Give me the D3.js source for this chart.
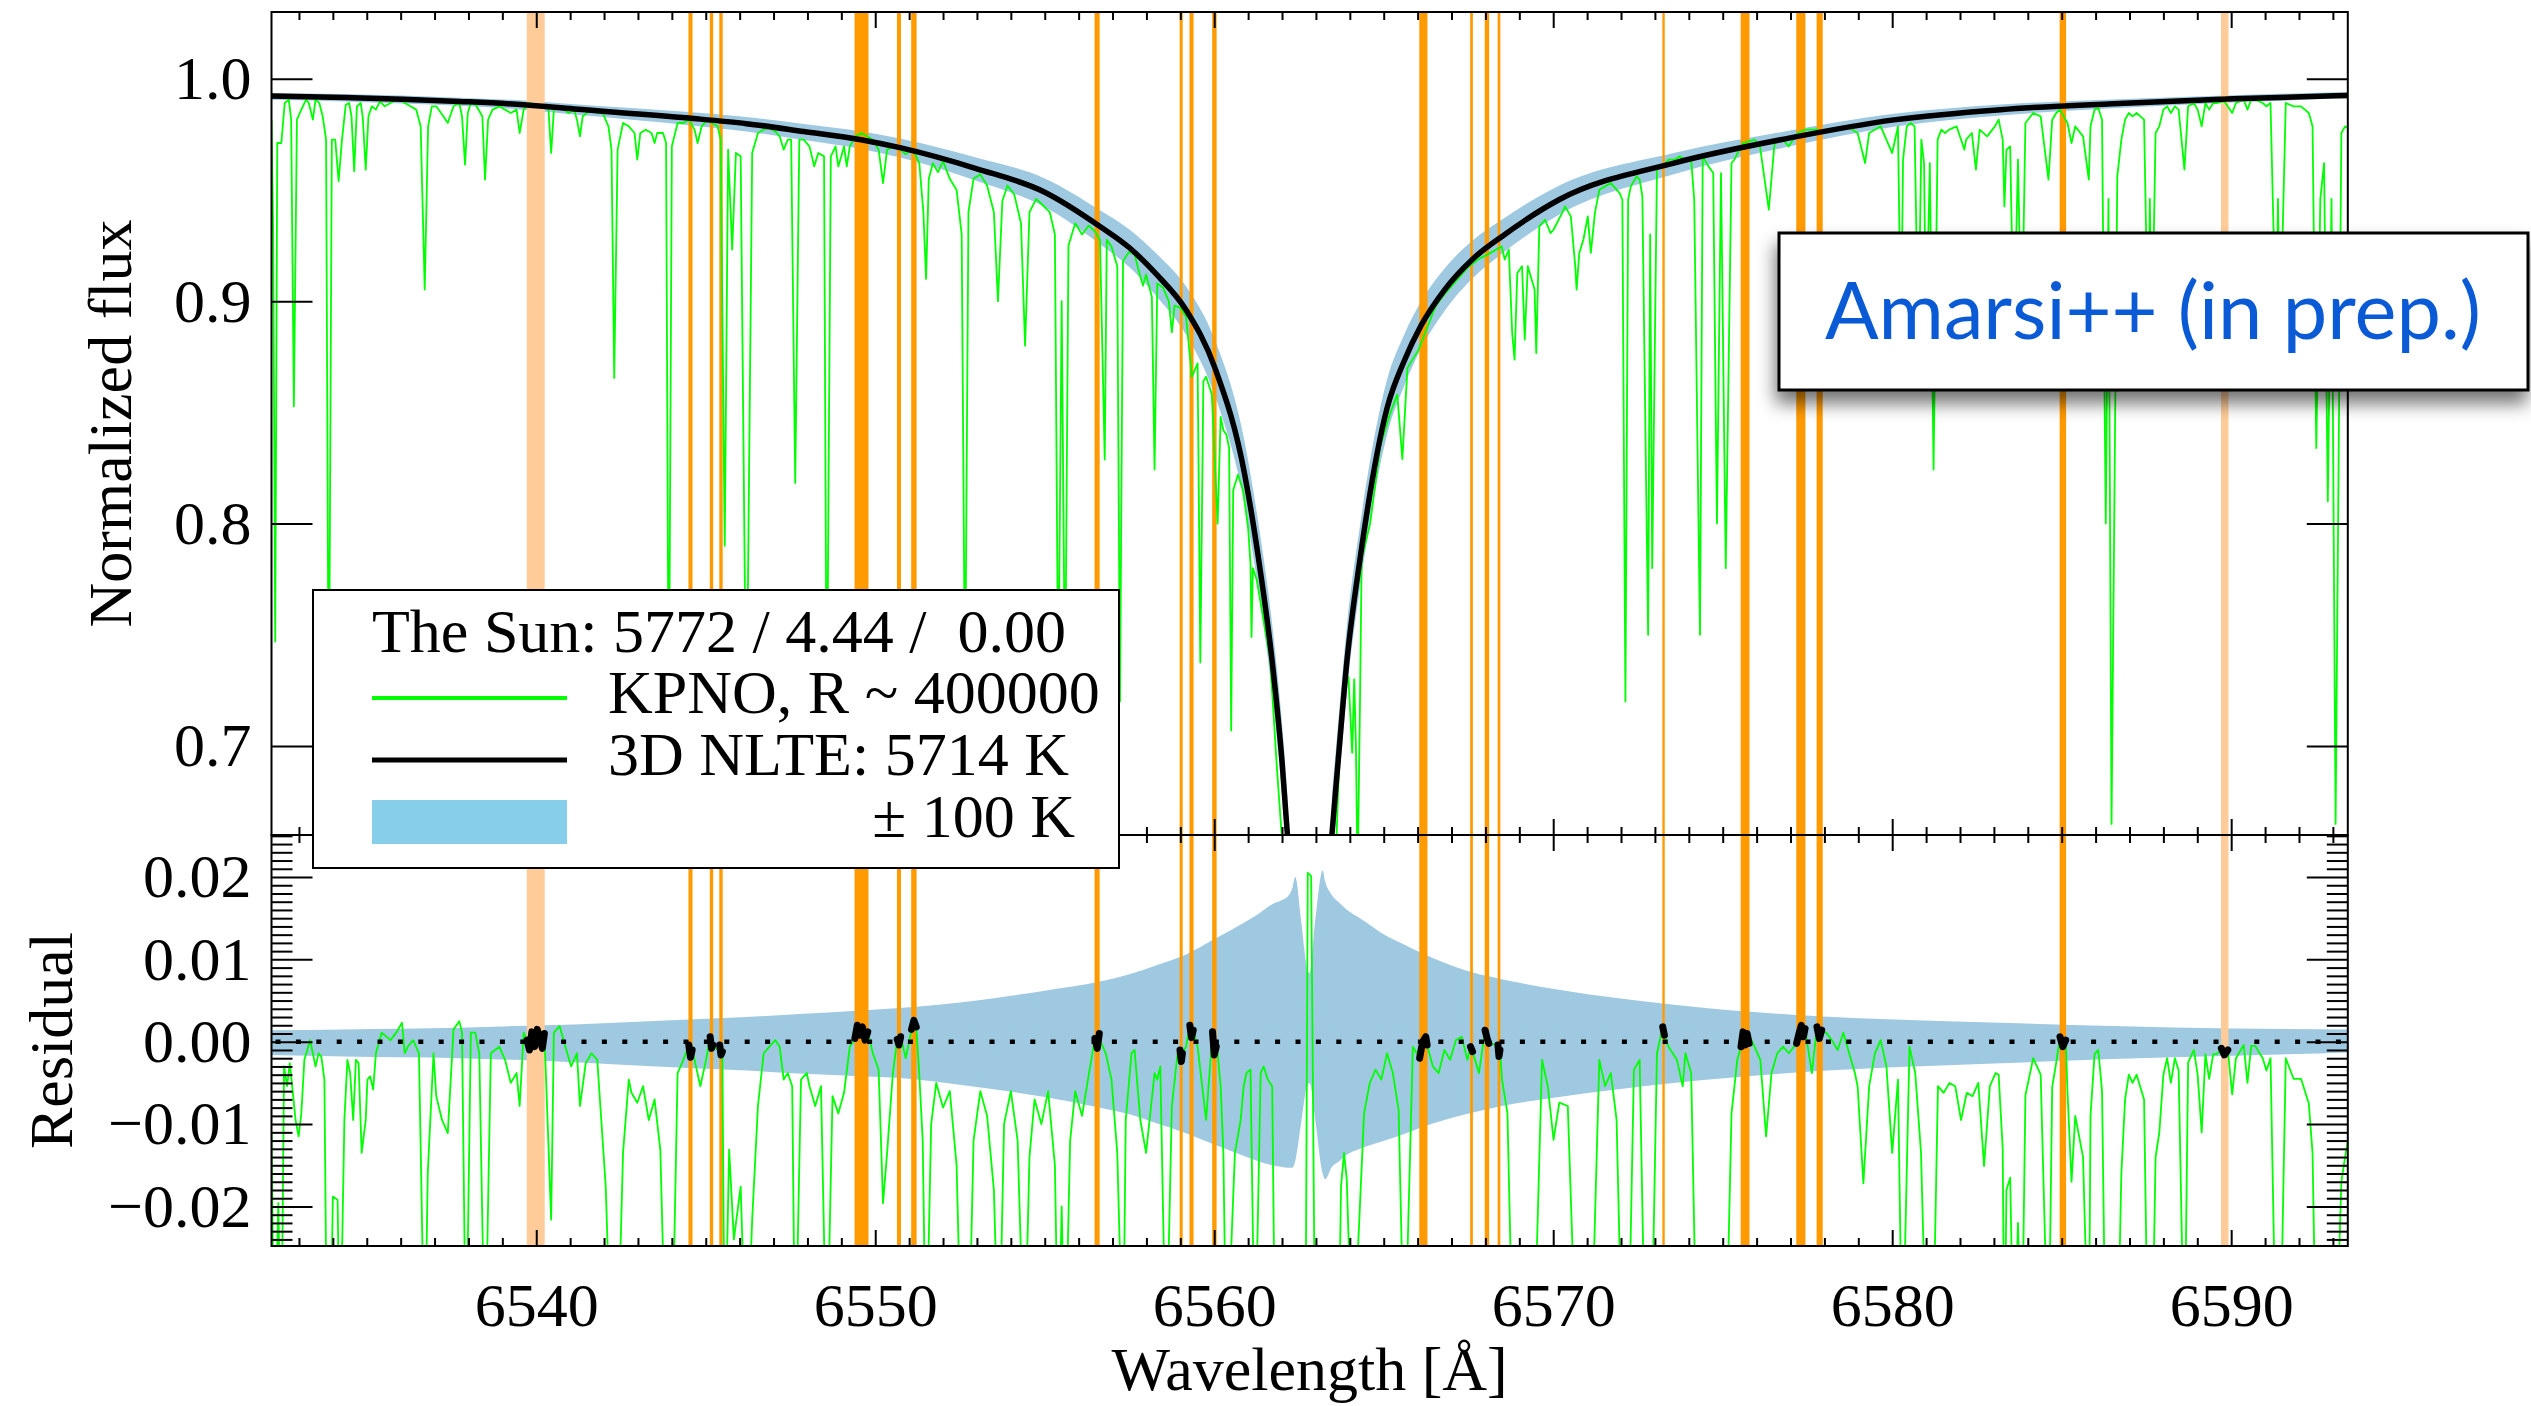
<!DOCTYPE html>
<html>
<head>
<meta charset="utf-8">
<script src="https://cdn.jsdelivr.net/npm/d3@7"></script>
<style>
  html, body { margin: 0; padding: 0; background: #ffffff; }
  svg text { font-family: "Liberation Serif", "Times New Roman", serif; fill: #000; }
</style>
</head>
<body>
<svg id="chart" width="2531" height="1406"></svg>
<script>
// ---------------------------------------------------------------------------
// Data: solar H-alpha region, KPNO flux atlas vs. 3D NLTE synthetic profile
// ---------------------------------------------------------------------------

// Axis domains and tick labels
const waveDomain  = [6532.19, 6593.44];
const fluxDomain  = [0.66, 1.03];
const residDomain = [-0.0248, 0.0251];
const waveTicks   = [6540, 6550, 6560, 6570, 6580, 6590];
const fluxTicks   = [0.7, 0.8, 0.9, 1.0];
const residTicks  = [-0.02, -0.01, 0.00, 0.01, 0.02];

// Synthetic 3D NLTE profile (null where the core falls below the plotted range)
const modelWave = [6532.19, 6534.34, 6537.73, 6539.42, 6541.12, 6544.50, 6546.20, 6547.89, 6549.58, 6550.73,
                   6553.00, 6555.00, 6556.63, 6557.50, 6558.30, 6559.17, 6560.02, 6560.90, 6561.30, 6561.71,
                   6562.00, 6562.16, 6562.30, 6562.39, 6562.56, 6562.73, 6562.81, 6562.98, 6563.20, 6563.27,
                   6563.47, 6563.66, 6563.92, 6564.30, 6565.10, 6565.60, 6566.10, 6566.79, 6567.63, 6568.48,
                   6570.17, 6573.56, 6576.95, 6580.05, 6583.20, 6586.50, 6590.06, 6593.44];
const modelFlux = [0.9922, 0.9916, 0.9898, 0.9885, 0.9864, 0.9823, 0.9798, 0.9763, 0.9726, 0.9690,
                   0.9595, 0.9490, 0.9336, 0.9240, 0.9120, 0.8960, 0.8700, 0.8220, 0.7850, 0.7380,
                   0.6930, 0.6600, null, null, null, null, null, null, null, null,
                   0.6600, 0.6940, 0.7390, 0.7840, 0.8520, 0.8730, 0.8890, 0.9050, 0.9190, 0.9290,
                   0.9456, 0.9621, 0.9733, 0.9815, 0.9861, 0.9888, 0.9910, 0.9925];
// Flux change of the profile for Teff +/- 100 K
const bandUpper = [0.0014, 0.0015, 0.0017, 0.0019, 0.0021, 0.0027, 0.0030, 0.0034, 0.0038, 0.0041,
                   0.0050, 0.0062, 0.0073, 0.0082, 0.0093, 0.0106, 0.0125, 0.0145, 0.0155, 0.0167,
                   0.0172, 0.0176, 0.0186, 0.0200, 0.0148, 0.0091, 0.0083, 0.0148, 0.0208, 0.0195,
                   0.0178, 0.0170, 0.0160, 0.0150, 0.0128, 0.0118, 0.0108, 0.0096, 0.0084, 0.0076,
                   0.0063, 0.0045, 0.0033, 0.0027, 0.0023, 0.0019, 0.0016, 0.0015];
const bandLower = [-0.0016, -0.0018, -0.0020, -0.0022, -0.0025, -0.0032, -0.0035, -0.0039, -0.0042, -0.0044,
                   -0.0055, -0.0067, -0.0080, -0.0088, -0.0099, -0.0111, -0.0125, -0.0139, -0.0145, -0.0150,
                   -0.0152, -0.0153, -0.0153, -0.0145, -0.0100, -0.0055, -0.0050, -0.0095, -0.0160, -0.0167,
                   -0.0152, -0.0146, -0.0137, -0.0130, -0.0119, -0.0112, -0.0104, -0.0095, -0.0086, -0.0078,
                   -0.0067, -0.0050, -0.0038, -0.0031, -0.0026, -0.0021, -0.0017, -0.0013];

// KPNO solar flux atlas: [wavelength, normalized flux]
const kpnoFlux = [
  [6532.19,0.9816],[6532.24,0.930],[6532.30,0.747],[6532.36,0.9711],[6532.48,0.9711],[6532.58,0.9891],[6532.70,0.9906],
  [6532.77,0.9816],[6532.85,0.8527],[6532.94,0.9816],[6533.07,0.9861],[6533.21,0.9906],[6533.29,0.9891],[6533.41,0.9816],
  [6533.49,0.9906],[6533.60,0.9891],[6533.70,0.9831],[6533.80,0.9726],[6533.88,0.700],[6533.97,0.9726],[6534.07,0.9726],
  [6534.17,0.9539],[6534.27,0.9726],[6534.38,0.9883],[6534.48,0.9891],[6534.55,0.9831],[6534.63,0.9584],[6534.71,0.9876],
  [6534.82,0.9891],[6534.88,0.9831],[6534.97,0.9591],[6535.05,0.9831],[6535.15,0.9876],[6535.27,0.9861],[6535.39,0.9898],
  [6535.53,0.9876],[6535.70,0.9891],[6535.87,0.9906],[6536.04,0.9898],[6536.29,0.9876],[6536.46,0.9861],[6536.59,0.9786],
  [6536.71,0.9052],[6536.81,0.9786],[6536.92,0.9876],[6537.05,0.9876],[6537.26,0.9831],[6537.39,0.9801],[6537.56,0.9876],
  [6537.73,0.9891],[6537.81,0.9831],[6537.90,0.9614],[6537.98,0.9846],[6538.10,0.9906],[6538.24,0.9876],[6538.41,0.9831],
  [6538.49,0.9546],[6538.58,0.9816],[6538.71,0.9861],[6538.92,0.9876],[6539.08,0.9861],[6539.25,0.9846],[6539.42,0.9861],
  [6539.51,0.9756],[6539.63,0.9861],[6539.80,0.9891],[6540.02,0.9883],[6540.19,0.9876],[6540.36,0.9861],[6540.44,0.9666],
  [6540.52,0.9861],[6540.69,0.9876],[6540.95,0.9846],[6541.12,0.9861],[6541.20,0.9816],[6541.29,0.9741],[6541.37,0.9831],
  [6541.63,0.9861],[6541.80,0.9846],[6541.96,0.9846],[6542.13,0.9786],[6542.22,0.9681],[6542.30,0.8655],[6542.40,0.9681],
  [6542.56,0.9801],[6542.73,0.9786],[6542.90,0.9756],[6542.98,0.9636],[6543.07,0.9756],[6543.23,0.9771],[6543.40,0.9756],
  [6543.49,0.9711],[6543.57,0.9756],[6543.74,0.9756],[6543.83,0.9711],[6543.91,0.700],[6544.00,0.9696],[6544.17,0.9801],
  [6544.34,0.9801],[6544.51,0.9816],[6544.67,0.9771],[6544.76,0.9711],[6544.88,0.9786],[6545.05,0.9816],[6545.18,0.9801],
  [6545.35,0.9786],[6545.44,0.9726],[6545.56,0.790],[6545.66,0.9681],[6545.78,0.9232],[6545.89,0.9666],[6546.03,0.9651],
  [6546.20,0.700],[6546.37,0.9666],[6546.54,0.9756],[6546.71,0.9771],[6546.88,0.9778],[6547.05,0.9763],[6547.18,0.9741],
  [6547.30,0.9681],[6547.42,0.9726],[6547.52,0.9726],[6547.64,0.8183],[6547.76,0.9726],[6547.89,0.9726],[6548.06,0.9696],
  [6548.20,0.9606],[6548.32,0.9666],[6548.49,0.9651],[6548.57,0.700],[6548.69,0.9651],[6548.83,0.9696],[6548.91,0.9606],
  [6549.00,0.9651],[6549.08,0.9696],[6549.16,0.9606],[6549.25,0.9696],[6549.42,0.9741],[6549.59,0.9756],[6549.76,0.9741],
  [6549.93,0.9726],[6550.10,0.9681],[6550.23,0.9531],[6550.35,0.9681],[6550.52,0.9696],[6550.74,0.9681],
  [6550.90,0.966],[6551.05,0.968],[6551.15,0.967],[6551.30,0.962],[6551.42,0.940],[6551.50,0.910],[6551.58,0.955],
  [6551.70,0.962],[6551.85,0.958],[6552.00,0.963],[6552.20,0.955],[6552.40,0.950],[6552.55,0.930],[6552.65,0.720],
  [6552.75,0.940],[6552.90,0.955],[6553.10,0.957],[6553.30,0.952],[6553.50,0.940],[6553.62,0.900],[6553.75,0.945],
  [6553.90,0.952],[6554.10,0.948],[6554.30,0.935],[6554.42,0.880],[6554.55,0.940],[6554.75,0.946],[6554.95,0.943],
  [6555.15,0.940],[6555.30,0.930],[6555.40,0.720],[6555.50,0.900],[6555.60,0.720],[6555.70,0.925],[6555.90,0.935],
  [6556.10,0.930],[6556.30,0.934],[6556.50,0.931],
  [6556.63,0.9276],[6556.77,0.8288],[6556.83,0.9276],[6556.97,0.9246],[6557.14,0.9157],[6557.22,0.720],[6557.31,0.918],
  [6557.48,0.922],[6557.65,0.921],[6557.82,0.911],[6557.90,0.907],[6557.99,0.912],[6558.16,0.902],[6558.24,0.8243],
  [6558.32,0.908],[6558.49,0.906],[6558.66,0.900],[6558.75,0.886],[6558.83,0.898],[6559.00,0.897],[6559.17,0.893],
  [6559.34,0.866],[6559.51,0.872],[6559.59,0.7375],[6559.68,0.864],[6559.76,0.866],[6559.93,0.858],[6560.10,0.800],
  [6560.19,0.848],[6560.27,0.842],[6560.36,0.840],[6560.44,0.834],[6560.50,0.707],[6560.56,0.815],[6560.70,0.822],
  [6560.85,0.815],[6561.00,0.798],[6561.07,0.782],[6561.10,0.749],[6561.14,0.780],[6561.25,0.775],[6561.45,0.757],
  [6561.65,0.739],[6561.85,0.690],[6561.99,0.660],[6562.05,0.640],[6563.55,0.640],[6563.61,0.660],[6563.70,0.700],
  [6563.80,0.720],[6563.90,0.728],[6563.96,0.731],[6564.07,0.697],[6564.13,0.730],[6564.18,0.700],[6564.23,0.640],
  [6564.30,0.720],[6564.35,0.784],[6564.60,0.800],[6564.90,0.835],[6565.20,0.850],[6565.40,0.858],[6565.55,0.829],
  [6565.70,0.870],[6566.03,0.8782],[6566.45,0.8947],[6566.54,0.898],[6566.79,0.903],[6567.13,0.909],[6567.47,0.915],
  [6567.81,0.919],[6568.15,0.9217],[6568.48,0.9246],[6568.57,0.9187],[6568.69,0.9232],[6568.79,0.8857],[6568.86,0.8737],
  [6568.94,0.9127],[6569.08,0.9157],[6569.16,0.8827],[6569.25,0.9157],[6569.45,0.9052],[6569.50,0.8767],[6569.59,0.9336],
  [6569.76,0.9366],[6569.92,0.9306],[6570.01,0.9321],[6570.26,0.9396],[6570.35,0.9426],[6570.52,0.9381],[6570.65,0.9157],
  [6570.69,0.9052],[6570.77,0.9217],[6570.89,0.9276],[6571.02,0.9381],[6571.11,0.9217],[6571.23,0.9396],[6571.36,0.9501],
  [6571.53,0.9516],[6571.70,0.9531],[6571.96,0.9486],[6572.04,0.9456],[6572.13,0.720],[6572.21,0.9456],[6572.29,0.9516],
  [6572.46,0.9561],[6572.55,0.9546],[6572.63,0.9471],[6572.80,0.750],[6572.86,0.930],[6572.92,0.780],[6573.06,0.9591],
  [6573.23,0.9606],[6573.40,0.9636],[6573.57,0.9636],[6573.73,0.9651],[6573.90,0.9636],[6574.07,0.9636],[6574.16,0.9456],
  [6574.33,0.750],[6574.41,0.9651],[6574.58,0.9606],[6574.72,0.9576],[6574.83,0.800],[6574.95,0.9576],[6575.09,0.780],
  [6575.26,0.9621],[6575.34,0.9636],[6575.60,0.9711],[6575.94,0.9726],[6576.10,0.9696],[6576.36,0.9411],[6576.53,0.9711],
  [6576.78,0.9726],[6576.95,0.9696],[6577.21,0.9756],[6577.46,0.9771],[6577.80,0.9771],[6577.97,0.9756],[6578.14,0.9771],
  [6578.65,0.9786],[6578.98,0.9756],[6579.20,0.9621],[6579.32,0.9756],[6579.66,0.9786],[6580.00,0.9666],[6580.17,0.9786],
  [6580.26,0.880],[6580.32,0.9636],[6580.43,0.9786],[6580.55,0.9801],[6580.66,0.9786],[6580.77,0.880],[6580.86,0.9726],
  [6580.94,0.9621],[6581.00,0.880],[6581.11,0.9621],[6581.22,0.8243],[6581.34,0.9726],[6581.45,0.9771],[6581.56,0.9756],
  [6581.68,0.9771],[6581.90,0.9786],[6582.13,0.9681],[6582.18,0.9726],[6582.35,0.9756],[6582.47,0.9591],[6582.58,0.9771],
  [6582.80,0.9741],[6583.03,0.9786],[6583.14,0.9816],[6583.26,0.9726],[6583.31,0.9426],[6583.37,0.9681],[6583.48,0.9696],
  [6583.59,0.880],[6583.71,0.9636],[6583.82,0.880],[6583.93,0.9801],[6584.16,0.9846],[6584.38,0.9831],[6584.61,0.9546],
  [6584.72,0.9816],[6584.84,0.9846],[6584.95,0.9861],[6585.06,0.9831],[6585.17,0.9801],[6585.29,0.9711],[6585.40,0.9786],
  [6585.63,0.9741],[6585.80,0.9546],[6585.85,0.9786],[6585.97,0.9861],[6586.08,0.9868],[6586.19,0.9816],[6586.30,0.800],
  [6586.38,0.946],[6586.47,0.665],[6586.64,0.9561],[6586.76,0.9726],[6586.87,0.9816],[6586.98,0.9846],[6587.09,0.9831],
  [6587.21,0.9846],[6587.43,0.9816],[6587.55,0.880],[6587.60,0.946],[6587.66,0.880],[6587.77,0.9756],[6587.88,0.9786],
  [6588.00,0.9861],[6588.11,0.9876],[6588.22,0.9846],[6588.34,0.9876],[6588.45,0.9861],[6588.62,0.9591],[6588.73,0.9876],
  [6588.90,0.9891],[6589.01,0.9861],[6589.13,0.9786],[6589.24,0.9891],[6589.35,0.9861],[6589.47,0.9891],[6589.58,0.9891],
  [6589.80,0.9898],[6590.03,0.9846],[6590.14,0.9891],[6590.37,0.9906],[6590.48,0.9861],[6590.59,0.9906],[6590.71,0.9906],
  [6590.93,0.9891],[6591.04,0.9876],[6591.16,0.9891],[6591.33,0.880],[6591.38,0.946],[6591.44,0.880],[6591.61,0.9891],
  [6591.84,0.9876],[6592.06,0.9876],[6592.29,0.9846],[6592.40,0.9786],[6592.51,0.834],[6592.63,0.946],[6592.74,0.9621],
  [6592.85,0.810],[6592.96,0.946],[6593.08,0.665],[6593.25,0.9756],[6593.36,0.9786],[6593.44,0.978]
];

// Residual (observed - synthetic); values below the plotted range are given as -0.04
const kpnoResidual = [
  [6532.19,-0.0111],[6532.27,-0.04],[6532.39,-0.0196],[6532.48,-0.04],[6532.56,-0.0030],[6532.65,-0.0054],[6532.73,-0.0026],
  [6532.82,-0.0062],[6532.90,-0.0095],[6532.99,-0.0115],[6533.07,-0.0087],[6533.16,-0.0022],[6533.33,0.0002],[6533.41,-0.0014],
  [6533.49,-0.0030],[6533.58,-0.0014],[6533.66,-0.0018],[6533.75,-0.0046],[6533.83,-0.04],[6533.92,-0.04],[6534.00,-0.0188],
  [6534.14,-0.0192],[6534.21,-0.04],[6534.34,-0.0095],[6534.43,-0.0022],[6534.51,-0.0038],[6534.60,-0.0095],[6534.68,-0.0022],
  [6534.76,-0.0026],[6534.85,-0.0135],[6534.97,-0.0095],[6535.02,-0.0046],[6535.10,-0.0042],[6535.19,-0.0058],[6535.27,-0.0014],
  [6535.44,0.0011],[6535.70,0.0002],[6535.87,0.0011],[6536.04,0.0023],[6536.12,-0.0014],[6536.21,-0.0006],[6536.37,0.0002],
  [6536.54,-0.0014],[6536.71,-0.04],[6536.80,-0.0159],[6536.97,-0.0014],[6537.05,-0.0066],[6537.22,-0.0095],[6537.39,-0.0111],
  [6537.56,0.0015],[6537.73,0.0025],[6537.81,0.0011],[6537.93,-0.04],[6538.07,0.0011],[6538.20,0.0011],[6538.32,-0.0014],
  [6538.49,-0.04],[6538.66,-0.0014],[6538.91,-0.0006],[6539.08,-0.0022],[6539.25,-0.0050],[6539.42,-0.0038],[6539.51,-0.0078],
  [6539.63,0.0011],[6540.44,-0.0216],[6540.52,0.0011],[6540.69,0.0019],[6540.86,-0.0006],[6541.03,-0.0030],[6541.20,-0.0014],
  [6541.29,-0.0078],[6541.46,-0.0026],[6541.63,-0.0014],[6541.80,-0.0022],[6542.05,-0.0176],[6542.22,-0.04],[6542.39,-0.04],
  [6542.56,-0.0135],[6542.73,-0.0046],[6542.81,-0.0062],[6542.98,-0.0074],[6543.15,-0.0054],[6543.32,-0.0095],[6543.49,-0.0070],
  [6543.66,-0.0131],[6543.83,-0.04],[6544.00,-0.04],[6544.17,-0.0038],[6544.34,-0.0022],[6544.67,-0.0022],[6544.84,-0.0054],
  [6545.01,-0.0022],[6545.35,-0.0010],[6545.56,-0.04],[6545.69,-0.0131],[6545.83,-0.0240],[6546.03,-0.0176],[6546.20,-0.04],
  [6546.37,-0.0216],[6546.54,-0.0078],[6546.71,-0.0014],[6546.88,-0.0006],[6547.05,0.0002],[6547.18,-0.0006],[6547.30,-0.0046],
  [6547.42,-0.0038],[6547.55,-0.0054],[6547.64,-0.04],[6547.81,-0.0046],[6547.98,-0.0038],[6548.06,-0.0054],[6548.23,-0.0078],
  [6548.40,-0.0054],[6548.57,-0.04],[6548.74,-0.0066],[6548.91,-0.0087],[6549.08,-0.0062],[6549.25,-0.0006],[6549.93,-0.0014],
  [6550.10,-0.0034],[6550.23,-0.0196],[6550.35,-0.0135],[6550.52,-0.0038],[6550.90,-0.0020],[6551.30,-0.0040],[6551.40,-0.0120],
  [6551.50,-0.04],[6551.65,-0.0100],[6551.80,-0.0050],[6552.00,-0.0080],[6552.20,-0.0060],[6552.40,-0.0150],[6552.55,-0.04],
  [6552.75,-0.04],[6552.90,-0.0120],[6553.10,-0.0060],[6553.30,-0.0090],[6553.50,-0.0180],[6553.65,-0.04],[6553.80,-0.0100],
  [6554.00,-0.0060],[6554.20,-0.0120],[6554.40,-0.04],[6554.55,-0.0140],[6554.70,-0.0070],[6554.90,-0.0100],[6555.10,-0.0060],
  [6555.30,-0.0150],[6555.40,-0.04],[6555.50,-0.0200],[6555.60,-0.04],[6555.75,-0.0120],[6555.90,-0.0060],[6556.10,-0.0090],
  [6556.30,-0.0040],[6556.63,0.0002],[6556.80,-0.0014],[6556.97,-0.0046],[6557.14,-0.0135],[6557.31,-0.04],[6557.39,-0.0095],
  [6557.56,-0.0014],[6557.65,-0.0010],[6557.82,-0.0095],[6557.99,-0.0135],[6558.24,-0.0038],[6558.32,-0.0046],[6558.41,-0.0030],
  [6558.58,-0.04],[6558.75,-0.0078],[6558.92,-0.0014],[6559.17,-0.0006],[6559.51,-0.0006],[6559.76,-0.0095],[6560.10,-0.0014],
  [6560.19,-0.0054],[6560.27,-0.0135],[6560.36,-0.04],[6560.61,-0.0135],[6560.78,-0.0095],[6560.87,-0.0054],[6560.95,-0.0038],
  [6561.07,-0.0034],[6561.20,-0.04],[6561.37,-0.0038],[6561.46,-0.0030],[6561.58,-0.0046],[6561.71,-0.0054],[6561.80,-0.04],
  [6562.69,-0.04],[6562.76,0.0205],[6562.86,0.0201],[6562.98,-0.04],[6563.66,-0.04],[6563.74,-0.0176],[6563.83,-0.0135],
  [6563.91,-0.0167],[6564.08,-0.04],[6564.42,-0.0087],[6564.59,-0.0050],[6564.76,-0.0034],[6564.93,-0.0046],[6565.10,-0.0014],
  [6565.27,-0.0038],[6565.44,-0.0083],[6565.61,-0.04],[6565.86,-0.0006],[6566.45,-0.0030],[6566.62,-0.0038],[6566.79,-0.0010],
  [6566.96,-0.0022],[6567.13,0.0002],[6567.30,0.0006],[6567.47,-0.0022],[6567.81,-0.0038],[6568.49,-0.0046],[6568.65,-0.0087],
  [6568.82,-0.04],[6569.42,-0.04],[6569.67,-0.0022],[6569.84,-0.0054],[6570.01,-0.0119],[6570.18,-0.0074],[6570.43,-0.0078],
  [6570.69,-0.04],[6571.11,-0.04],[6571.36,-0.0022],[6571.53,-0.0054],[6571.70,-0.0038],[6571.87,-0.0095],[6572.04,-0.04],
  [6572.21,-0.04],[6572.38,-0.0034],[6572.55,-0.0022],[6572.72,-0.04],[6572.89,-0.04],[6573.06,-0.0014],[6573.40,-0.0006],
  [6573.65,-0.0022],[6573.82,-0.0054],[6573.90,-0.0014],[6574.07,-0.0038],[6574.24,-0.04],[6575.09,-0.04],[6575.26,-0.0087],
  [6575.43,-0.0022],[6575.85,0.0002],[6576.11,-0.0022],[6576.28,-0.0115],[6576.44,-0.0038],[6576.61,-0.0014],[6576.78,-0.0006],
  [6576.95,-0.0014],[6577.54,-0.0014],[6577.63,-0.0038],[6578.05,0.0011],[6578.22,0.0002],[6578.39,-0.0010],[6578.56,0.0011],
  [6578.73,-0.0014],[6578.90,-0.0038],[6578.98,-0.0054],[6579.15,-0.0172],[6579.32,-0.0054],[6579.49,-0.0014],[6579.66,0.0002],
  [6579.83,-0.0030],[6580.00,-0.0135],[6580.17,-0.0046],[6580.30,-0.04],[6580.51,-0.0006],[6580.68,-0.0038],[6580.85,-0.0135],
  [6581.02,-0.04],[6581.19,-0.04],[6581.35,-0.0054],[6581.52,-0.0062],[6581.69,-0.0050],[6581.86,-0.0054],[6582.03,-0.0095],
  [6582.20,-0.0062],[6582.37,-0.0066],[6582.54,-0.0050],[6582.71,-0.0151],[6582.88,-0.0054],[6583.05,-0.0038],[6583.14,-0.0040],
  [6583.26,-0.0130],[6583.31,-0.04],[6583.37,-0.0180],[6583.48,-0.0165],[6583.59,-0.04],[6583.71,-0.0220],[6583.82,-0.04],
  [6583.93,-0.0065],[6584.16,-0.0020],[6584.38,-0.0040],[6584.61,-0.04],[6584.72,-0.0055],[6584.84,-0.0025],[6585.17,-0.0060],
  [6585.29,-0.0170],[6585.40,-0.0090],[6585.63,-0.0140],[6585.80,-0.04],[6585.85,-0.0090],[6585.97,-0.0015],[6586.08,-0.0010],
  [6586.19,-0.0060],[6586.30,-0.04],[6586.47,-0.04],[6586.64,-0.04],[6586.76,-0.0160],[6586.87,-0.0070],[6586.98,-0.0040],
  [6587.09,-0.0050],[6587.21,-0.0040],[6587.43,-0.0070],[6587.55,-0.04],[6587.66,-0.04],[6587.77,-0.0140],[6587.88,-0.0110],
  [6588.00,-0.0040],[6588.11,-0.0020],[6588.22,-0.0050],[6588.34,-0.0020],[6588.45,-0.0035],[6588.62,-0.04],[6588.73,-0.0025],
  [6588.90,-0.0010],[6589.01,-0.0040],[6589.13,-0.0110],[6589.24,-0.0015],[6589.35,-0.0045],[6589.47,-0.0015],[6589.58,-0.0015],
  [6590.03,-0.0064],[6590.14,-0.0020],[6590.37,-0.0004],[6590.48,-0.0050],[6590.59,-0.0005],[6590.71,-0.0005],[6590.93,-0.0020],
  [6591.04,-0.0035],[6591.16,-0.0020],[6591.33,-0.04],[6591.44,-0.04],[6591.61,-0.0020],[6591.84,-0.0045],[6592.06,-0.0045],
  [6592.29,-0.0075],[6592.40,-0.0135],[6592.51,-0.04],[6592.74,-0.04],[6592.85,-0.04],[6593.08,-0.04],[6593.25,-0.0170],
  [6593.36,-0.0140],[6593.44,-0.0120]
];

// Wavelength windows used in the fit: [start, end, weight class]
const fitWindows = [
  [6539.72, 6540.25, "partial"], [6544.49, 6544.61, "full"], [6545.12, 6545.22, "full"], [6545.40, 6545.50, "full"],
  [6549.39, 6549.80, "full"], [6550.64, 6550.76, "full"], [6551.06, 6551.22, "full"], [6556.47, 6556.62, "full"],
  [6558.98, 6559.07, "full"], [6559.27, 6559.39, "full"], [6559.94, 6560.07, "full"], [6566.05, 6566.29, "full"],
  [6567.55, 6567.63, "full"], [6567.98, 6568.11, "full"], [6568.36, 6568.44, "full"], [6573.22, 6573.29, "full"],
  [6575.53, 6575.79, "full"], [6577.17, 6577.44, "full"], [6577.77, 6577.95, "full"], [6584.94, 6585.13, "full"],
  [6589.70, 6589.92, "partial"]
];

// Residuals of the fitted pixels inside the windows
const fitResidual = [
  [6539.73,0.0002],[6539.80,-0.0010],[6539.87,0.0012],[6539.95,-0.0006],[6540.03,0.0015],[6540.10,0.0004],[6540.18,-0.0008],[6540.24,0.0010],
  [6544.50,-0.0004],[6544.55,-0.0019],[6544.60,-0.0010],
  [6545.13,0.0006],[6545.17,-0.0008],[6545.21,-0.0004],
  [6545.41,-0.0004],[6545.45,-0.0016],[6545.49,-0.0012],
  [6549.40,0.0004],[6549.47,0.0020],[6549.55,0.0008],[6549.62,0.0018],[6549.70,0.0002],[6549.78,0.0012],
  [6550.65,0.0003],[6550.70,-0.0004],[6550.75,0.0006],
  [6551.07,0.0015],[6551.14,0.0026],[6551.21,0.0018],
  [6556.48,0.0004],[6556.55,-0.0008],[6556.61,0.0010],
  [6558.99,-0.0010],[6559.03,-0.0024],[6559.06,-0.0014],
  [6559.28,0.0020],[6559.33,0.0005],[6559.38,0.0014],
  [6559.95,0.0012],[6560.00,-0.0016],[6560.06,-0.0006],
  [6566.06,-0.0020],[6566.12,-0.0006],[6566.18,0.0002],[6566.24,0.0006],[6566.28,-0.0004],
  [6567.56,-0.0006],[6567.62,-0.0012],
  [6567.99,0.0014],[6568.05,0.0004],[6568.10,-0.0002],
  [6568.37,-0.0004],[6568.40,-0.0018],[6568.43,-0.0010],
  [6573.23,0.0018],[6573.28,0.0008],
  [6575.54,-0.0006],[6575.60,0.0012],[6575.66,-0.0004],[6575.72,0.0010],[6575.78,-0.0002],
  [6577.18,-0.0002],[6577.25,0.0010],[6577.32,0.0020],[6577.38,0.0006],[6577.43,0.0016],
  [6577.78,0.0018],[6577.85,0.0004],[6577.92,0.0014],
  [6584.95,0.0006],[6585.03,-0.0006],[6585.12,0.0002],
  [6589.71,-0.0008],[6589.80,-0.0016],[6589.90,-0.0010]
];

// Legend and annotation texts
const legendTitle = "The Sun: 5772 / 4.44 /  0.00";
const seriesNames = ["KPNO, R ~ 400000", "3D NLTE: 5714 K", "\u00b1 100 K"];
const noteText = "Amarsi++ (in prep.)";

// ---------------------------------------------------------------------------
// Layout and scales
// ---------------------------------------------------------------------------
const frame = { left: 271.5, right: 2347.8, top: 12, mid: 835, bottom: 1246 };
const colors = {
  obs: "#00ff00", model: "#000000", band: "#9fc9e0", swatch: "#87ceeb",
  full: "#ff9a00", partial: "#ffcc99", note: "#0a5ad6"
};

const svg = d3.select("#chart");
const x  = d3.scaleLinear().domain(waveDomain).range([frame.left, frame.right]);
const yF = d3.scaleLinear().domain(fluxDomain).range([frame.mid, frame.top]);
const yR = d3.scaleLinear().domain(residDomain).range([frame.bottom, frame.mid]);
const windowColor = d3.scaleOrdinal().domain(["full", "partial"]).range([colors.full, colors.partial]);

const defs = svg.append("defs");
defs.append("clipPath").attr("id", "clip-flux").append("rect")
  .attr("x", frame.left).attr("y", frame.top)
  .attr("width", frame.right - frame.left).attr("height", frame.mid - frame.top);
defs.append("clipPath").attr("id", "clip-resid").append("rect")
  .attr("x", frame.left).attr("y", frame.mid)
  .attr("width", frame.right - frame.left).attr("height", frame.bottom - frame.mid);
const shadowFilter = defs.append("filter").attr("id", "note-shadow")
  .attr("x", "-10%").attr("y", "-20%").attr("width", "120%").attr("height", "160%");
shadowFilter.append("feDropShadow").attr("dx", -2).attr("dy", 12).attr("stdDeviation", 9)
  .attr("flood-color", "#000").attr("flood-opacity", 0.55);

const modelRows = modelWave.map((w, i) => ({ w, f: modelFlux[i], hi: bandUpper[i], lo: bandLower[i] }));

// ---------------------------------------------------------------------------
// Upper panel: normalized flux
// ---------------------------------------------------------------------------
const fluxLayer = svg.append("g").attr("clip-path", "url(#clip-flux)");

fluxLayer.append("path")
  .datum(modelRows)
  .attr("fill", colors.band)
  .attr("d", d3.area()
    .defined(d => d.f !== null)
    .curve(d3.curveMonotoneX)
    .x(d => x(d.w))
    .y0(d => yF(d.f + d.lo))
    .y1(d => yF(d.f + d.hi)));

fluxLayer.append("g").selectAll("rect")
  .data(fitWindows)
  .join("rect")
  .attr("x", d => x(d[0]))
  .attr("width", d => Math.max(x(d[1]) - x(d[0]), 2.2))
  .attr("y", frame.top).attr("height", frame.mid - frame.top)
  .attr("fill", d => windowColor(d[2]));

fluxLayer.append("path")
  .datum(kpnoFlux)
  .attr("fill", "none").attr("stroke", colors.obs).attr("stroke-width", 1.8)
  .attr("stroke-linejoin", "round")
  .attr("d", d3.line().x(d => x(d[0])).y(d => yF(d[1])));

fluxLayer.append("path")
  .datum(modelRows)
  .attr("fill", "none").attr("stroke", colors.model).attr("stroke-width", 5.5)
  .attr("d", d3.line()
    .defined(d => d.f !== null)
    .curve(d3.curveMonotoneX)
    .x(d => x(d.w)).y(d => yF(d.f)));

// ---------------------------------------------------------------------------
// Lower panel: residuals
// ---------------------------------------------------------------------------
const residLayer = svg.append("g").attr("clip-path", "url(#clip-resid)");

residLayer.append("path")
  .datum(modelRows)
  .attr("fill", colors.band)
  .attr("d", d3.area()
    .curve(d3.curveMonotoneX)
    .x(d => x(d.w))
    .y0(d => yR(d.lo))
    .y1(d => yR(d.hi)));

residLayer.append("g").selectAll("rect")
  .data(fitWindows)
  .join("rect")
  .attr("x", d => x(d[0]))
  .attr("width", d => Math.max(x(d[1]) - x(d[0]), 2.2))
  .attr("y", frame.mid).attr("height", frame.bottom - frame.mid)
  .attr("fill", d => windowColor(d[2]));

const inWindow = w => fitWindows.some(d => w >= d[0] && w <= d[1]);
const residSeries = kpnoResidual.filter(d => !inWindow(d[0]))
  .concat(fitResidual)
  .sort((a, b) => a[0] - b[0]);

residLayer.append("path")
  .datum(residSeries)
  .attr("fill", "none").attr("stroke", colors.obs).attr("stroke-width", 1.8)
  .attr("stroke-linejoin", "round")
  .attr("d", d3.line().x(d => x(d[0])).y(d => yR(d[1])));

residLayer.append("line")
  .attr("x1", frame.left + 4).attr("x2", frame.right)
  .attr("y1", yR(0)).attr("y2", yR(0))
  .attr("stroke", "#000").attr("stroke-width", 4.5)
  .attr("stroke-dasharray", "5 15.4");

const fitGroups = fitWindows.map(win => fitResidual.filter(d => d[0] >= win[0] - 0.01 && d[0] <= win[1] + 0.01));
residLayer.append("g").selectAll("path")
  .data(fitGroups)
  .join("path")
  .attr("fill", "none").attr("stroke", "#000").attr("stroke-width", 7)
  .attr("stroke-linecap", "round").attr("stroke-linejoin", "round")
  .attr("d", d3.line().x(d => x(d[0])).y(d => yR(d[1])));

// ---------------------------------------------------------------------------
// Axes, ticks and frames
// ---------------------------------------------------------------------------
const tickStyle = g => {
  g.select(".domain").remove();
  g.selectAll(".tick line").attr("stroke", "#000").attr("stroke-width", 2);
};
const minorWave = d3.range(Math.ceil(waveDomain[0]), waveDomain[1], 1).filter(v => v % 10 !== 0);
const minorResid = d3.range(-24, 26, 1).map(v => v / 1000).filter(v => Math.round(v * 1000) % 10 !== 0);

function waveTicksAt(y, inward) {
  const axis = inward > 0 ? d3.axisBottom : d3.axisTop;
  svg.append("g").attr("transform", `translate(0,${y})`)
    .call(axis(x).tickValues(minorWave).tickSize(8).tickFormat(""))
    .call(tickStyle);
  svg.append("g").attr("transform", `translate(0,${y})`)
    .call(axis(x).tickValues(waveTicks).tickSize(16).tickFormat(""))
    .call(tickStyle);
}
waveTicksAt(frame.top, 1);
waveTicksAt(frame.mid, -1);
waveTicksAt(frame.mid, 1);
waveTicksAt(frame.bottom, -1);

// wavelength labels
svg.append("g").attr("transform", `translate(0,${frame.bottom})`)
  .call(d3.axisBottom(x).tickValues(waveTicks).tickSize(0).tickPadding(36).tickFormat(d3.format("d")))
  .call(g => g.select(".domain").remove())
  .selectAll("text").attr("font-size", 62).attr("font-family", "'Liberation Serif', serif");

// flux axis (left with labels, right mirrored)
svg.append("g").attr("transform", `translate(${frame.left},0)`)
  .call(d3.axisLeft(yF).tickValues(fluxTicks).tickSize(-41).tickPadding(20).tickFormat(d3.format(".1f")))
  .call(tickStyle)
  .selectAll("text").attr("font-size", 62).attr("font-family", "'Liberation Serif', serif");
svg.append("g").attr("transform", `translate(${frame.right},0)`)
  .call(d3.axisRight(yF).tickValues(fluxTicks).tickSize(-41).tickFormat(""))
  .call(tickStyle);

// residual axis
svg.append("g").attr("transform", `translate(${frame.left},0)`)
  .call(d3.axisLeft(yR).tickValues(minorResid).tickSize(-21).tickFormat(""))
  .call(tickStyle);
svg.append("g").attr("transform", `translate(${frame.left},0)`)
  .call(d3.axisLeft(yR).tickValues(residTicks).tickSize(-41).tickPadding(20).tickFormat(d3.format(".2f")))
  .call(tickStyle)
  .selectAll("text").attr("font-size", 62).attr("font-family", "'Liberation Serif', serif");
svg.append("g").attr("transform", `translate(${frame.right},0)`)
  .call(d3.axisRight(yR).tickValues(minorResid).tickSize(-21).tickFormat(""))
  .call(tickStyle);
svg.append("g").attr("transform", `translate(${frame.right},0)`)
  .call(d3.axisRight(yR).tickValues(residTicks).tickSize(-41).tickFormat(""))
  .call(tickStyle);

// panel frames
[[frame.top, frame.mid], [frame.mid, frame.bottom]].forEach(([y0, y1]) => {
  svg.append("rect")
    .attr("x", frame.left).attr("y", y0)
    .attr("width", frame.right - frame.left).attr("height", y1 - y0)
    .attr("fill", "none").attr("stroke", "#000").attr("stroke-width", 2);
});

// axis titles
svg.append("text")
  .attr("transform", `translate(131,${(frame.top + frame.mid) / 2}) rotate(-90)`)
  .attr("text-anchor", "middle").attr("font-size", 62)
  .text("Normalized flux");
svg.append("text")
  .attr("transform", `translate(72,${(frame.mid + frame.bottom) / 2}) rotate(-90)`)
  .attr("text-anchor", "middle").attr("font-size", 62)
  .text("Residual");
svg.append("text")
  .attr("x", (frame.left + frame.right) / 2).attr("y", 1390)
  .attr("text-anchor", "middle").attr("font-size", 62)
  .text("Wavelength [\u00c5]");

// ---------------------------------------------------------------------------
// Legend
// ---------------------------------------------------------------------------
const legendBox = svg.append("g");
legendBox.append("rect")
  .attr("x", 313).attr("y", 590).attr("width", 806).attr("height", 278)
  .attr("fill", "#fff").attr("stroke", "#000").attr("stroke-width", 2);
legendBox.append("text")
  .attr("x", 372).attr("y", 652).attr("font-size", 62)
  .style("white-space", "pre")
  .text(legendTitle);
legendBox.append("line")
  .attr("x1", 372).attr("x2", 567).attr("y1", 698).attr("y2", 698)
  .attr("stroke", colors.obs).attr("stroke-width", 4);
legendBox.append("text")
  .attr("x", 608).attr("y", 713).attr("font-size", 62)
  .text(seriesNames[0]);
legendBox.append("line")
  .attr("x1", 372).attr("x2", 567).attr("y1", 760).attr("y2", 760)
  .attr("stroke", colors.model).attr("stroke-width", 5);
legendBox.append("text")
  .attr("x", 608).attr("y", 775).attr("font-size", 62)
  .text(seriesNames[1]);
legendBox.append("rect")
  .attr("x", 372).attr("y", 800).attr("width", 195).attr("height", 44)
  .attr("fill", colors.swatch);
legendBox.append("text")
  .attr("x", 1075).attr("y", 837).attr("text-anchor", "end").attr("font-size", 62)
  .text(seriesNames[2]);

// ---------------------------------------------------------------------------
// Reference note
// ---------------------------------------------------------------------------
const noteBox = svg.append("g");
noteBox.append("rect")
  .attr("x", 1779).attr("y", 233).attr("width", 749).attr("height", 157)
  .attr("fill", "#fff").attr("stroke", "#000").attr("stroke-width", 3)
  .attr("filter", "url(#note-shadow)");
const noteLabel = noteBox.append("text")
  .attr("x", 1825).attr("y", 339)
  .style("font-family", "Lato, 'Open Sans', 'DejaVu Sans', sans-serif")
  .style("font-size", "78px")
  .style("fill", colors.note)
  .text(noteText);
const noteWidth = noteLabel.node().getComputedTextLength();
if (noteWidth > 0) {
  const size = Math.max(70, Math.min(88, 78 * 656 / noteWidth));
  noteLabel.style("font-size", size.toFixed(1) + "px");
}
</script>
</body>
</html>
